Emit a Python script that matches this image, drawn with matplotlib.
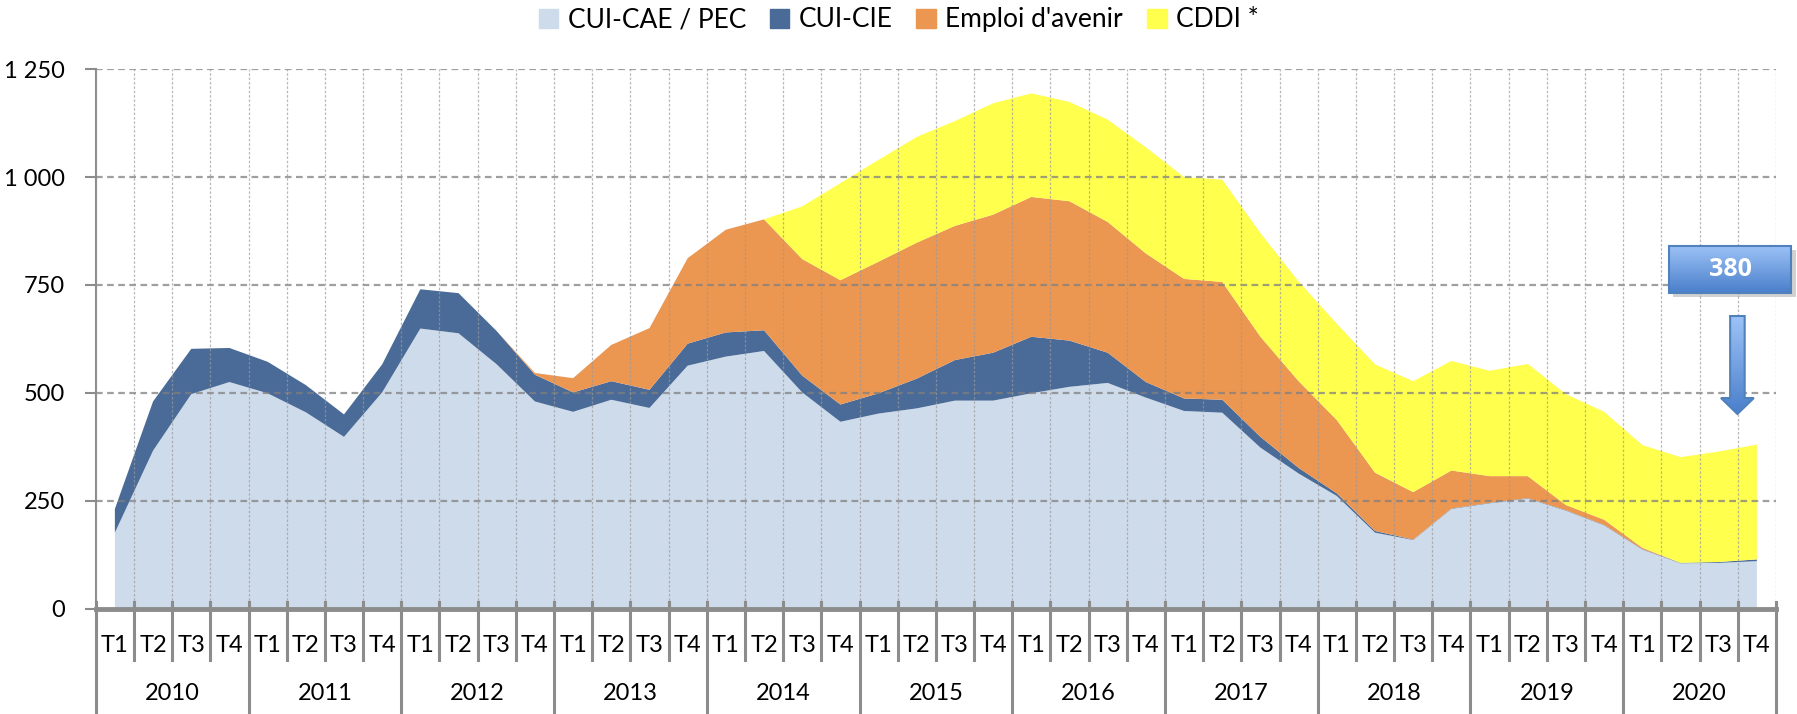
import numpy as np
import matplotlib
matplotlib.use("Agg")
import matplotlib.pyplot as plt
from matplotlib.patches import Patch, Rectangle, Polygon
from matplotlib.colors import LinearSegmentedColormap
from matplotlib.transforms import blended_transform_factory

plt.rcParams['font.family'] = ['Lato', 'DejaVu Sans']

years = ["2010", "2011", "2012", "2013", "2014", "2015", "2016", "2017", "2018", "2019", "2020"]
quarters = ["T1", "T2", "T3", "T4"]

# milliers de contrats, par trimestre
cae = [176, 366, 497, 525, 499, 455, 398, 501, 649, 638, 566, 480, 456, 484, 465, 563,
       584, 597, 501, 433, 452, 464, 482, 482, 499, 514, 523, 489, 458, 454, 373, 313,
       261, 176, 159, 231, 244, 255, 227, 193, 137, 105, 106, 110]
cie = [55, 114, 105, 79, 73, 63, 52, 65, 91, 93, 77, 62, 45, 43, 42, 51,
       56, 48, 39, 40, 47, 69, 94, 111, 131, 107, 70, 36, 29, 30, 25, 13,
       6, 4, 1, 1, 1, 1, 1, 1, 1, 1, 2, 4]
eav = [0, 0, 0, 0, 0, 0, 0, 0, 0, 0, 0, 4, 33, 84, 143, 198,
       238, 257, 270, 288, 305, 315, 311, 320, 324, 323, 303, 298, 277, 273, 232, 201,
       170, 135, 110, 88, 62, 51, 12, 12, 3, 0, 0, 0]
cddi = [0, 0, 0, 0, 0, 0, 0, 0, 0, 0, 0, 0, 0, 0, 0, 0,
        0, 0, 122, 225, 236, 245, 243, 258, 240, 230, 237, 246, 236, 237, 240, 231,
        223, 251, 257, 254, 244, 260, 257, 250, 238, 245, 256, 266]

names = ["CUI-CAE / PEC", "CUI-CIE", "Emploi d'avenir", "CDDI *"]
colors = ["#CEDBEA", "#4A6B97", "#EB9651", "#FFFF4D"]

x = np.arange(len(cae))
n = len(x)
total = np.array(cae) + np.array(cie) + np.array(eav) + np.array(cddi)

fig = plt.figure(figsize=(17.97, 7.14), dpi=100)
ax = fig.add_axes([0.0533, 0.1476, 0.935, 0.7555])

ax.stackplot(x, cae, cie, eav, cddi, colors=colors, linewidth=0, zorder=2)

# grille
for v in range(250, 1251, 250):
    ax.axhline(v, color="#7F7F7F", lw=1.6, ls=(0, (3, 2)), alpha=0.75, zorder=3)
for b in np.arange(-0.5, n, 1.0):
    ax.axvline(b, color="#9A9A9A", lw=0.9, ls=(0, (2, 1.5)), alpha=0.7, zorder=3)

ax.set_xlim(-0.5, n - 0.5)
ax.set_ylim(0, 1250)
ax.set_yticks([0, 250, 500, 750, 1000, 1250])
ax.set_yticklabels(["0", "250", "500", "750", "1 000", "1 250"])
ax.tick_params(axis="y", length=8, width=1.5, color="#8C8C8C", pad=14, labelsize=17)
ax.set_xticks([])

for s in ["top", "right"]:
    ax.spines[s].set_visible(False)
ax.spines["left"].set_color("#8C8C8C")
ax.spines["left"].set_linewidth(1.5)
ax.spines["bottom"].set_color("#8C8C8C")
ax.spines["bottom"].set_linewidth(3.5)
ax.spines["bottom"].set_zorder(5)

# axe des catégories à deux niveaux
tr = blended_transform_factory(ax.transData, ax.transAxes)
for k, b in enumerate(np.arange(-0.5, n + 0.5, 1.0)):
    low = -0.192 if k % 4 == 0 else -0.095
    ax.plot([b, b], [0.013, low], transform=tr, color="#8C8C8C", lw=2.2,
            clip_on=False, zorder=5)
for i in range(n):
    ax.text(x[i], -0.068, quarters[i % 4], transform=tr, ha="center", va="center",
            fontsize=17)
for j, yr in enumerate(years):
    ax.text(4 * j + 1.5, -0.158, yr, transform=tr, ha="center", va="center", fontsize=17)

# encadré de la dernière valeur
bx0, bx1, by0, by1 = 40.69, 43.9, 731, 840
ax.add_patch(Rectangle((bx0 + 0.12, by0 - 9), bx1 - bx0, by1 - by0, color="#000000",
                       alpha=0.18, lw=0, zorder=9, clip_on=False))
cmap = LinearSegmentedColormap.from_list("bx", ["#4A7FCB", "#9DC3F7"])
grad = np.linspace(0, 1, 100).reshape(-1, 1)
im = ax.imshow(grad, extent=[bx0, bx1, by0, by1], origin="lower", aspect="auto",
               cmap=cmap, zorder=10)
im.set_clip_on(False)
ax.add_patch(Rectangle((bx0, by0), bx1 - bx0, by1 - by0, fill=False, ec="#4F81BD",
                       lw=1.5, zorder=11, clip_on=False))
ax.text((bx0 + bx1) / 2, (by0 + by1) / 2, f"{int(round(total[-1]))}", ha="center",
        va="center", color="white", fontsize=18, fontweight="bold",
        family=["Open Sans", "DejaVu Sans"], zorder=12)

# flèche
ac, sw, hw = 42.49, 0.19, 0.43
arrow = [(ac - sw, 678), (ac + sw, 678), (ac + sw, 488), (ac + hw, 488), (ac, 451),
         (ac - hw, 488), (ac - sw, 488)]
ap = Polygon(arrow, closed=True, fc="none", ec="#4F81BD", lw=1.5, zorder=11)
ax.add_patch(ap)
im2 = ax.imshow(grad, extent=[ac - hw, ac + hw, 451, 678], origin="lower", aspect="auto",
                cmap=cmap, zorder=10)
im2.set_clip_path(ap)

ax.set_xlim(-0.5, n - 0.5)
ax.set_ylim(0, 1250)

handles = [Patch(color=c) for c in colors]
fig.legend(handles, names, loc="center", bbox_to_anchor=(0.5, 0.972), ncol=4,
           frameon=False, fontsize=19, handlelength=0.75, handleheight=0.75,
           handletextpad=0.35, columnspacing=0.9)

fig.savefig("out.png", dpi=100)
